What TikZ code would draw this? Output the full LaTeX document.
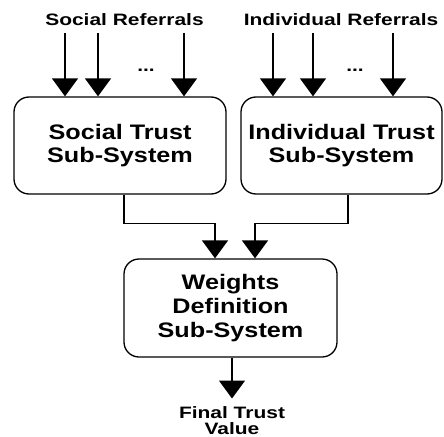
\documentclass[tikz,border=0pt]{standalone}
\usepackage{fontspec}
\setmainfont[FakeStretch=1.2]{Liberation Sans}
\newfontfamily\lbfont[FakeStretch=1.27]{Liberation Sans}
\usepackage{tikz}
\usetikzlibrary{arrows.meta}

\begin{document}
\begin{tikzpicture}[x=1pt,y=-1pt]
    \tikzstyle{sub} = [draw,line width=1.3pt,rounded corners=15pt,align=center,
                       inner sep=0pt,font=\bfseries\fontsize{21}{22.5}\selectfont]
    \tikzstyle{ar} = [draw,line width=1.4pt,-{Triangle[width=26pt,length=18pt]}]
    \tikzstyle{lb} = [inner sep=0pt,align=center,font=\lbfont\bfseries\fontsize{16.5}{16}\selectfont]
    \useasboundingbox (0,0) rectangle (444,436);
    % the three sub-systems
    \node [sub,minimum width=212pt,minimum height=97pt] (soc) at (120,145.5) {Social Trust\\Sub-System};
    \node [sub,minimum width=201pt,minimum height=97pt] (ind) at (341.5,145.5) {Individual Trust\\Sub-System};
    \node [sub,minimum width=213pt,minimum height=98pt,font=\bfseries\fontsize{21}{24}\selectfont]
          (wts) at (230.5,308) {Weights\\Definition\\Sub-System};
    % referrals coming in
    \node [lb,anchor=base] (sref) at (124.5,26) {Social Referrals};
    \node [lb,anchor=base] (iref) at (341,26) {Individual Referrals};
    \node [lb,anchor=base] (sdots) at (146,71) {...};
    \node [lb,anchor=base] (idots) at (355,71) {...};
    \coordinate (s1) at (65,33);
    \coordinate (s2) at (98,33);
    \coordinate (s3) at (184,33);
    \coordinate (i1) at (273,33);
    \coordinate (i2) at (313,33);
    \coordinate (i3) at (393,33);
    \foreach \c in {s1,s2,s3} \path [ar] (\c) -- (\c |- soc.north);
    \foreach \c in {i1,i2,i3} \path [ar] (\c) -- (\c |- ind.north);
    % both trusts feed the weights
    \path [ar] ([xshift=4pt]soc.south) -- ++(0,29) -| ([xshift=-15.5pt]wts.north);
    \path [ar] ([xshift=6.5pt]ind.south) -- ++(0,29) -| ([xshift=24.5pt]wts.north);
    % result
    \node [lb,anchor=north] (fin) at (232,406) {Final Trust\\Value};
    \path [ar] (fin.north |- wts.south) -- ([yshift=7.5pt]fin.north);
  \end{tikzpicture}
\end{document}
